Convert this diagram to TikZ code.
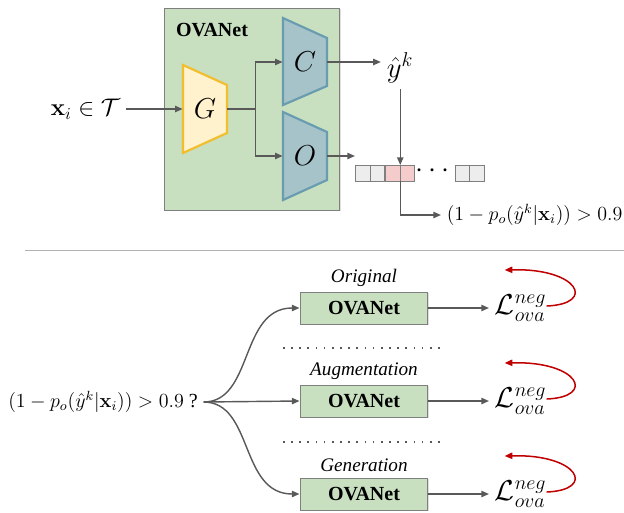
\documentclass[tikz,border=0pt]{standalone}
\usepackage{amsmath,amsfonts}
\usepackage[no-math]{fontspec}
\setmainfont{Liberation Serif}
\usetikzlibrary{arrows.meta, positioning, shadows}

\definecolor{netgreen}{HTML}{C8DFC0}
\definecolor{edgegray}{HTML}{7F7F7F}
\definecolor{arrgray}{HTML}{595959}
\definecolor{gfill}{HTML}{FFF2CC}
\definecolor{gedge}{HTML}{F2BE2E}
\definecolor{headfill}{HTML}{A5C3C9}
\definecolor{headedge}{HTML}{6A9CB0}
\definecolor{cellgray}{HTML}{EDEDED}
\definecolor{cellpink}{HTML}{F4CCCC}
\definecolor{lossred}{HTML}{C00000}

\begin{document}
\begin{tikzpicture}[
  x=0.6pt, y=-0.6pt,
  arr/.style={-{Triangle[length=4.6pt,width=3.8pt]}, line width=0.85pt, draw=arrgray},
  loss/.style={-{Triangle[length=4.6pt,width=3.8pt]}, line width=0.9pt, draw=lossred},
  letter/.style={minimum width=26.4pt, minimum height=14pt, inner sep=0pt, font=\LARGE},
  cell/.style={draw=edgegray, fill=cellgray, line width=0.5pt, minimum width=8.7pt, minimum height=9.6pt, inner sep=0pt, outer sep=0pt},
  ovabox/.style={draw=edgegray, fill=netgreen, line width=0.6pt, minimum width=76.8pt, minimum height=19.2pt,
    font=\large\bfseries, drop shadow={opacity=0.25, shadow xshift=0.8pt, shadow yshift=-0.8pt}},
  tag/.style={font=\fontsize{11.5}{13}\selectfont\itshape, inner sep=1pt},
  sep/.style={dash pattern=on 1pt off 3.9pt, line width=1pt, draw=arrgray}
]
\useasboundingbox (0,0) rectangle (624,512);

% upper part: the network
\node[draw=edgegray, fill=netgreen, line width=0.6pt, minimum width=105.6pt, minimum height=121.2pt,
  drop shadow={opacity=0.25, shadow xshift=0.8pt, shadow yshift=-0.8pt}] (net) at (252,109) {};
\node[font=\large\bfseries] (nettitle) at (212,30) {OVANet};

\draw[draw=gedge, fill=gfill, line width=1.3pt] (183,65) -- (227,85) -- (227,133) -- (183,153) -- cycle;
\draw[draw=headedge, fill=headfill, line width=1.3pt] (283,18) -- (327,38) -- (327,86) -- (283,105) -- cycle;
\draw[draw=headedge, fill=headfill, line width=1.3pt] (283,112) -- (327,132) -- (327,180) -- (283,200) -- cycle;
\node[letter] (G) at (205,109) {$G$};
\node[letter] (C) at (305,62) {$C$};
\node[letter] (O) at (305,156) {$O$};

\node[font=\Large, anchor=east] (xin) at (126,109) {$\mathbf{x}_i \in \mathcal{T}$};
\node[font=\LARGE] (yk) at (400,68) {$\hat{y}^k$};

\draw[arr] (xin) -- (G);
\draw[arr] (G.east) -- ++(28,0) |- (C.west);
\draw[arr] (G.east) -- ++(28,0) |- (O.west);
\draw[arr] (C.east) -- (yk.west |- C.east);

% output vector
\node[cell] (c1) at (363,173) {};
\node[cell, right=0pt of c1] (c2) {};
\node[cell, fill=cellpink, right=0.6pt of c2] (c3) {};
\node[cell, fill=cellpink, right=0pt of c3] (c4) {};
\node[font=\LARGE, inner sep=0pt] (dots) at (435,171) {$\cdots$};
\node[cell] (c5) at (462.5,173) {};
\node[cell, right=0pt of c5] (c6) {};
\coordinate (oend) at (355,156);
\draw[arr] (O.east) -- (oend);
\draw[arr] (yk.south -| c3.north east) -- (c3.north east);

\node[font=\large, anchor=west] (cond) at (441,215) {$(1-p_o(\hat{y}^k|\mathbf{x}_i)) > 0.9$};
\draw[arr] (c3.south east) |- (cond.west);

\draw[gray!60, line width=0.6pt] (25,250) -- (624,250);

% lower part: the three branches
\node[font=\large] (ask) at (103,402) {$(1-p_o(\hat{y}^k|\mathbf{x}_i)) > 0.9$ ?};

\node[ovabox] (orig) at (364,308) {OVANet};
\node[ovabox] (aug) at (364,401) {OVANet};
\node[ovabox] (gen) at (364,494) {OVANet};
\node[tag, above=2pt of orig] (origtag) {Original};
\node[tag, above=2pt of aug] (augtag) {Augmentation};
\node[tag, above=2pt of gen] (gentag) {Generation};

\draw[sep] (283,348) -- (445,348);
\draw[sep] (283,442) -- (445,442);

\draw[arr] (ask.east) .. controls +(50,0) and +(-60,0) .. (orig.west);
\draw[arr] (ask.east) -- (aug.west);
\draw[arr] (ask.east) .. controls +(50,0) and +(-60,0) .. (gen.west);

\foreach \b/\l in {orig/L1, aug/L2, gen/L3} {
  \node[font=\LARGE, right=75pt of \b.center] (\l) {$\mathcal{L}^{neg}_{ova}$};
  \draw[arr] (\b) -- (\l);
  \draw[loss] ([shift={(26,-2)}]\l.center) .. controls +(50,-2) and +(74,-2) .. ([shift={(-16,-38)}]\l.center);
}
\end{tikzpicture}
\end{document}
